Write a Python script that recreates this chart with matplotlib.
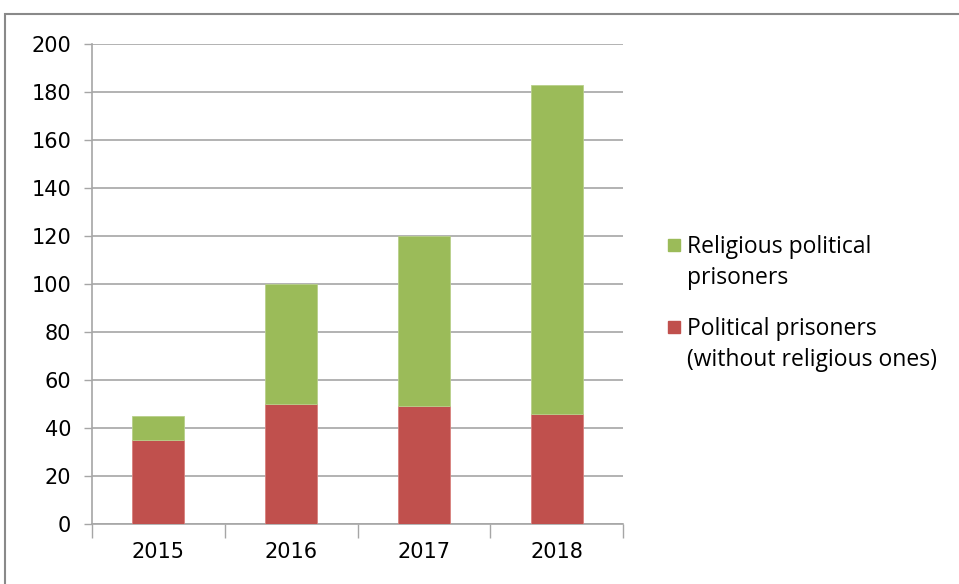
import matplotlib.pyplot as plt
from matplotlib.patches import Rectangle

# data
years = ['2015', '2016', '2017', '2018']
political = [35, 50, 49, 46]
religious = [10, 50, 71, 137]
legend_labels = ['Religious political\nprisoners', 'Political prisoners\n(without religious ones)']

red = '#c0504d'
green = '#9bbb59'
grid_col = '#a6a6a6'

fig = plt.figure(figsize=(9.59, 5.84), dpi=100)
W, H = 959, 584

# outer chart frame (only top/left visible in the reference)
fig.patches.append(Rectangle((5 / W, -0.1), 1.2, (584 - 14) / H + 0.1,
                             transform=fig.transFigure, fill=False,
                             edgecolor='#898989', linewidth=1.5))

ax = fig.add_axes([92 / W, (H - 524) / H, (623 - 92) / W, (524 - 44) / H])

x = range(len(years))
ax.bar(x, political, width=0.39, color=red, edgecolor='#d9807d', linewidth=0.6, zorder=3)
ax.bar(x, religious, width=0.39, bottom=political, color=green, edgecolor='#b8d08a',
       linewidth=0.6, zorder=3)

ax.set_xlim(-0.5, 3.5)
ax.set_ylim(0, 200)
ax.set_yticks(range(0, 201, 20))
ax.yaxis.grid(True, color=grid_col, linewidth=1.2, zorder=0)

ax.set_xticks([-0.5, 0.5, 1.5, 2.5, 3.5])
ax.set_xticklabels([])
ax.set_xticks(list(x), minor=True)
ax.set_xticklabels(years, minor=True)
ax.tick_params(axis='x', which='major', length=10, color=grid_col, width=1)
ax.tick_params(axis='x', which='minor', length=0, pad=13)
ax.tick_params(axis='y', length=6, color=grid_col, width=1, pad=9)

for lab in ax.get_xticklabels(minor=True) + ax.get_yticklabels():
    lab.set_fontsize(15)

for side in ['top', 'right']:
    ax.spines[side].set_visible(False)
for side in ['left', 'bottom']:
    ax.spines[side].set_color(grid_col)
    ax.spines[side].set_linewidth(1.2)

# legend drawn by hand: marker lines up with the first text line
for i, (lab, col) in enumerate(zip(legend_labels, [green, red])):
    y0 = 245 + i * 82
    fig.patches.append(Rectangle((668 / W, 1 - (y0 + 6) / H), 12 / W, 12 / H,
                                 transform=fig.transFigure, color=col))
    fig.text(687 / W, 1 - (y0 - 10) / H, lab, ha='left', va='top',
             family='Open Sans', fontsize=16.5, linespacing=1.4)

fig.savefig('out.png', dpi=100)
